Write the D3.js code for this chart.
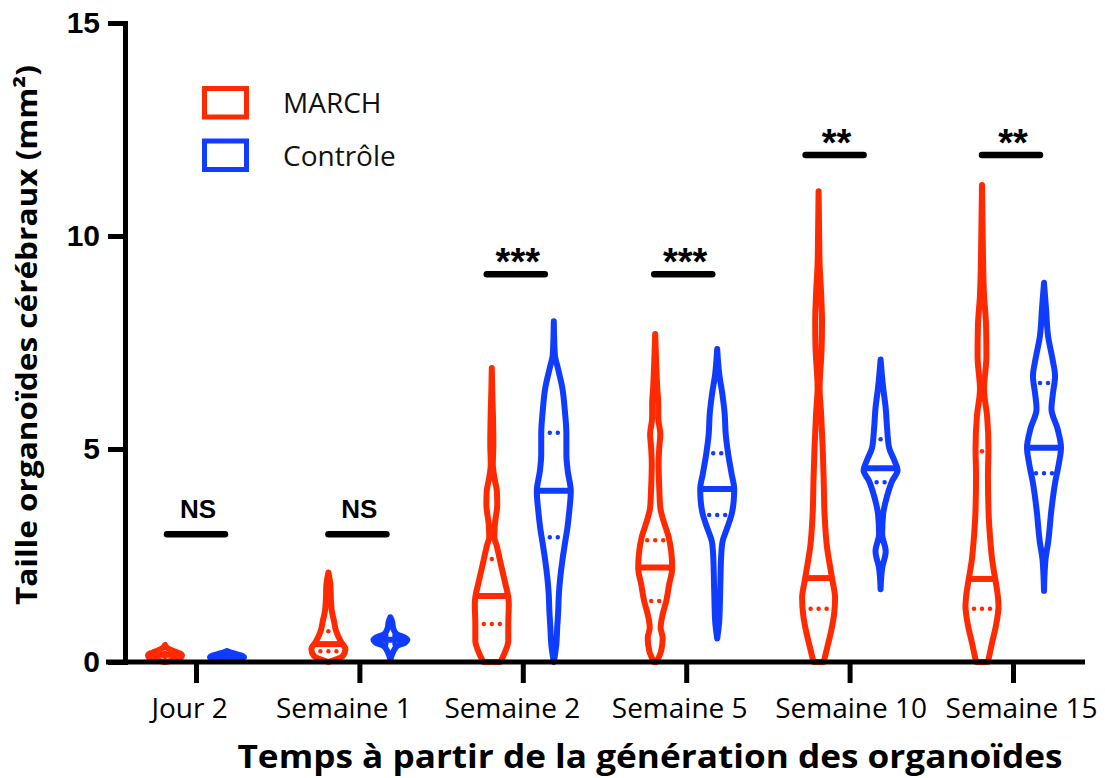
<!DOCTYPE html>
<html>
<head>
<meta charset="utf-8">
<script src="https://cdn.jsdelivr.net/npm/d3@7"></script>
<style>
  html, body { margin: 0; padding: 0; background: #fff; }
  svg { display: block; }
</style>
</head>
<body>
<svg id="chart" width="1105" height="778"></svg>
<script>
// ---------------- DATA ----------------
const categories = ["Jour 2", "Semaine 1", "Semaine 2", "Semaine 5", "Semaine 10", "Semaine 15"];
const seriesNames = ["MARCH", "Contrôle"];
const yTicks = [0, 5, 10, 15];

// violin profiles: [value (mm²), relative density]
const marchProfiles = [
  [[0,0.1],[0.05,0.5],[0.11,0.95],[0.16,1],[0.22,0.75],[0.28,0.35],[0.34,0.1],[0.4,0]],
  [[0,0],[0.04,0.3],[0.14,0.85],[0.3,1],[0.49,0.72],[0.73,0.45],[0.96,0.33],[1.2,0.2],[1.45,0.15],[1.8,0.12],[2.1,0]],
  [[0,0.5],[0.26,0.8],[0.49,0.97],[0.89,0.97],[1.36,1],[1.55,0.96],[1.83,0.8],[2.3,0.53],[2.77,0.26],[2.92,0.15],[3.23,0.18],[3.7,0.32],[4.0,0.3],[4.33,0.15],[4.64,0.06],[5.1,0.09],[5.9,0.06],[6.3,0.03],[6.9,0]],
  [[0,0.08],[0.26,0.35],[0.57,0.44],[0.8,0.32],[1.12,0.44],[1.43,0.65],[1.82,0.82],[2.2,1],[2.6,0.94],[2.92,0.8],[3.3,0.5],[3.62,0.3],[4.08,0.24],[4.64,0.2],[5.03,0.24],[5.35,0.3],[5.73,0.18],[6.05,0.18],[6.44,0.12],[7.0,0.06],[7.7,0]],
  [[0,0.3],[0.33,0.5],[0.73,0.74],[1.12,0.91],[1.5,0.97],[1.9,0.82],[2.3,0.65],[2.68,0.5],[3.47,0.35],[4.25,0.3],[5.03,0.24],[5.82,0.15],[6.44,0.06],[7.37,0.18],[8.0,0.2],[8.64,0.15],[9.34,0.06],[10.1,0.03],[11.05,0]],
  [[0,0.35],[0.45,0.59],[0.85,0.82],[1.31,0.97],[1.62,0.91],[1.9,0.8],[2.42,0.59],[2.8,0.5],[3.59,0.38],[4.37,0.35],[5.0,0.38],[5.77,0.3],[6.4,0.12],[7.18,0.26],[7.89,0.24],[8.6,0.12],[9.46,0.06],[11.2,0]]
];
const controleProfiles = [
  [[0.02,0],[0.06,0.5],[0.11,1],[0.15,0.85],[0.2,0.4],[0.26,0]],
  [[0.06,0],[0.22,0.14],[0.38,0.4],[0.46,0.88],[0.52,1],[0.58,0.82],[0.66,0.35],[0.8,0.16],[0.95,0.1],[1.05,0]],
  [[0,0],[0.42,0.15],[0.8,0.2],[1.2,0.26],[1.6,0.3],[1.98,0.38],[2.37,0.5],[2.77,0.65],[3.15,0.8],[3.54,0.91],[4.01,1],[4.48,0.82],[4.87,0.74],[5.35,0.74],[5.9,0.65],[6.44,0.5],[6.9,0.24],[7.22,0.06],[8.0,0]],
  [[0.55,0],[0.96,0.12],[1.74,0.18],[2.53,0.24],[2.84,0.32],[3.15,0.59],[3.47,0.85],[3.78,0.97],[4.06,1],[4.41,0.85],[4.87,0.65],[5.35,0.5],[5.82,0.44],[6.3,0.3],[6.76,0.12],[7.35,0]],
  [[1.71,0],[2.2,0.09],[2.6,0.3],[3.0,0.09],[3.47,0.15],[3.85,0.35],[4.25,0.68],[4.5,1],[4.72,0.82],[5.03,0.5],[5.5,0.38],[5.96,0.3],[6.44,0.15],[7.1,0]],
  [[1.67,0],[2.42,0.09],[2.8,0.24],[3.59,0.44],[4.2,0.65],[4.67,0.88],[5.03,1],[5.47,0.8],[5.94,0.44],[6.32,0.53],[6.71,0.65],[7.11,0.5],[7.65,0.24],[8.29,0.12],[8.9,0]]
];
const marchMedian   = [0.17, 0.42, 1.55, 2.22, 1.97, 1.95];
const marchQ1       = [0.12, 0.25, 0.89, 1.43, 1.25, 1.25];
const marchQ3       = [0.22, 0.72, 2.42, 2.86, null, 4.95];
const controleMedian = [0.11, 0.52, 4.02, 4.06, 4.55, 5.03];
const controleQ1     = [0.07, 0.42, 2.93, 3.45, 4.22, 4.43];
const controleQ3     = [0.14, 0.62, 5.38, 4.90, 5.23, 6.55];

const sigLabels = ["NS", "NS", "***", "***", "**", "**"];
const sigLevel  = [3.0, 3.0, 9.1, 9.1, 11.9, 11.9];

// ---------------- LAYOUT / STYLE ----------------
const colors = ["#ff2a00", "#0f3cff"];
const seriesOffset = [-31, 31];
const labelNudge = [-7, -16, -11, -7, 1, 8];
const sigNudge = [0, -2, -7, -3, -15, -2];
const strokeW = 6;

const svg = d3.select("#chart");
const yScale = d3.scaleLinear().domain([0, 15]).range([662, 23]);
const xScale = d3.scalePoint().domain(categories).range([196, 1013]);
const wScale = d3.scaleLinear().domain([0, 1]).range([0, 17]);

const profilesBySeries = [marchProfiles, controleProfiles];
const medianBySeries = [marchMedian, controleMedian];
const q1BySeries = [marchQ1, controleQ1];
const q3BySeries = [marchQ3, controleQ3];

function densityAt(profile, v) {
  if (v <= profile[0][0]) return profile[0][1];
  for (let i = 1; i < profile.length; i++) {
    if (v <= profile[i][0]) {
      const a = profile[i - 1], b = profile[i];
      const t = (v - a[0]) / (b[0] - a[0]);
      return a[1] + t * (b[1] - a[1]);
    }
  }
  return profile[profile.length - 1][1];
}

const violins = svg.append("g").attr("class", "violins");

categories.forEach((cat, ci) => {
  [0, 1].forEach(si => {
    const cx = xScale(cat) + seriesOffset[si];
    const prof = profilesBySeries[si][ci];
    const col = colors[si];
    const g = violins.append("g");

    // quartile dotted lines
    [q1BySeries[si][ci], q3BySeries[si][ci]].forEach(q => {
      if (q == null) return;
      const h = wScale(densityAt(prof, q));
      const inner = 2 * h - 9;
      if (inner < 0) return;
      const L = Math.floor(inner / 8) * 8;
      g.append("line")
        .attr("x1", cx - L / 2).attr("x2", cx + L / 2 + 0.01)
        .attr("y1", yScale(q)).attr("y2", yScale(q))
        .attr("stroke", col).attr("stroke-width", 4.5)
        .attr("stroke-linecap", "round")
        .attr("stroke-dasharray", "0 8");
    });

    // median
    const m = medianBySeries[si][ci];
    const hm = wScale(densityAt(prof, m));
    g.append("line")
      .attr("x1", cx - hm).attr("x2", cx + hm)
      .attr("y1", yScale(m)).attr("y2", yScale(m))
      .attr("stroke", col).attr("stroke-width", 6);

    // outline
    const area = d3.area()
      .y(d => yScale(d[0]))
      .x0(d => cx - wScale(d[1]))
      .x1(d => cx + wScale(d[1]))
      .curve(d3.curveMonotoneY);
    g.append("path")
      .attr("d", area(prof))
      .attr("fill", "none")
      .attr("stroke", col)
      .attr("stroke-width", strokeW)
      .attr("stroke-linejoin", "round")
      .attr("stroke-linecap", "round");
  });
});

// ---------------- AXES ----------------
const yAxis = d3.axisLeft(yScale).tickValues(yTicks).tickSize(17).tickSizeOuter(0).tickPadding(8);
const gy = svg.append("g").attr("transform", "translate(125,0)").call(yAxis);
gy.select(".domain").attr("stroke", "#000").attr("stroke-width", 5).attr("stroke-linecap", "square");
gy.selectAll(".tick line").attr("stroke", "#000").attr("stroke-width", 5);
gy.selectAll(".tick text")
  .attr("fill", "#000")
  .style("font-family", "'Liberation Sans', Arial, sans-serif")
  .style("font-weight", "bold")
  .style("font-size", "30px");

svg.append("line")
  .attr("x1", 106).attr("x2", 1085)
  .attr("y1", yScale(0)).attr("y2", yScale(0))
  .attr("stroke", "#000").attr("stroke-width", 5);

const xAxis = d3.axisBottom(xScale).tickSize(21).tickSizeOuter(0);
const gx = svg.append("g").attr("transform", `translate(0,${yScale(0)})`).call(xAxis);
gx.select(".domain").remove();
gx.selectAll(".tick line").attr("stroke", "#000").attr("stroke-width", 5);
gx.selectAll(".tick text")
  .attr("y", 56).attr("dy", 0)
  .attr("x", (d, i) => labelNudge[i])
  .attr("fill", "#000")
  .style("font-family", "'Open Sans', sans-serif")
  .style("font-size", "28px");

// ---------------- SIGNIFICANCE ----------------
const sig = svg.append("g");
categories.forEach((cat, i) => {
  const cx = xScale(cat) + sigNudge[i];
  const yy = yScale(sigLevel[i]);
  sig.append("line")
    .attr("x1", cx - 29).attr("x2", cx + 29)
    .attr("y1", yy).attr("y2", yy)
    .attr("stroke", "#000").attr("stroke-width", 6.5)
    .attr("stroke-linecap", "round");
  const isStar = sigLabels[i].startsWith("*");
  sig.append("text")
    .attr("x", cx + 2)
    .attr("y", isStar ? yy + 1 : yy - 16)
    .attr("text-anchor", "middle")
    .style("font-family", "'Liberation Sans', Arial, sans-serif")
    .style("font-weight", "bold")
    .style("font-size", isStar ? "38px" : "26px")
    .text(sigLabels[i]);
});

// ---------------- LEGEND ----------------
const legend = svg.append("g");
seriesNames.forEach((name, i) => {
  const ly = 88.5 + i * 52.5;
  legend.append("rect")
    .attr("x", 204.5).attr("y", ly)
    .attr("width", 42).attr("height", 28.5)
    .attr("fill", "none").attr("stroke", colors[i]).attr("stroke-width", 5);
  legend.append("text")
    .attr("x", 283).attr("y", ly + 24.5)
    .style("font-family", "'Open Sans', sans-serif")
    .style("font-size", "28px")
    .attr("fill", "#111")
    .text(name);
});

// ---------------- TITLES ----------------
svg.append("text")
  .attr("transform", "translate(37,335) rotate(-90)")
  .attr("text-anchor", "middle")
  .attr("textLength", 540)
  .attr("lengthAdjust", "spacingAndGlyphs")
  .style("font-family", "'Open Sans', sans-serif")
  .style("font-weight", "bold")
  .style("font-size", "28px")
  .text("Taille organoïdes cérébraux (mm²)");

svg.append("text")
  .attr("x", 650).attr("y", 768)
  .attr("text-anchor", "middle")
  .attr("textLength", 825)
  .attr("lengthAdjust", "spacingAndGlyphs")
  .style("font-family", "'Open Sans', sans-serif")
  .style("font-weight", "bold")
  .style("font-size", "32px")
  .text("Temps à partir de la génération des organoïdes");
</script>
</body>
</html>
